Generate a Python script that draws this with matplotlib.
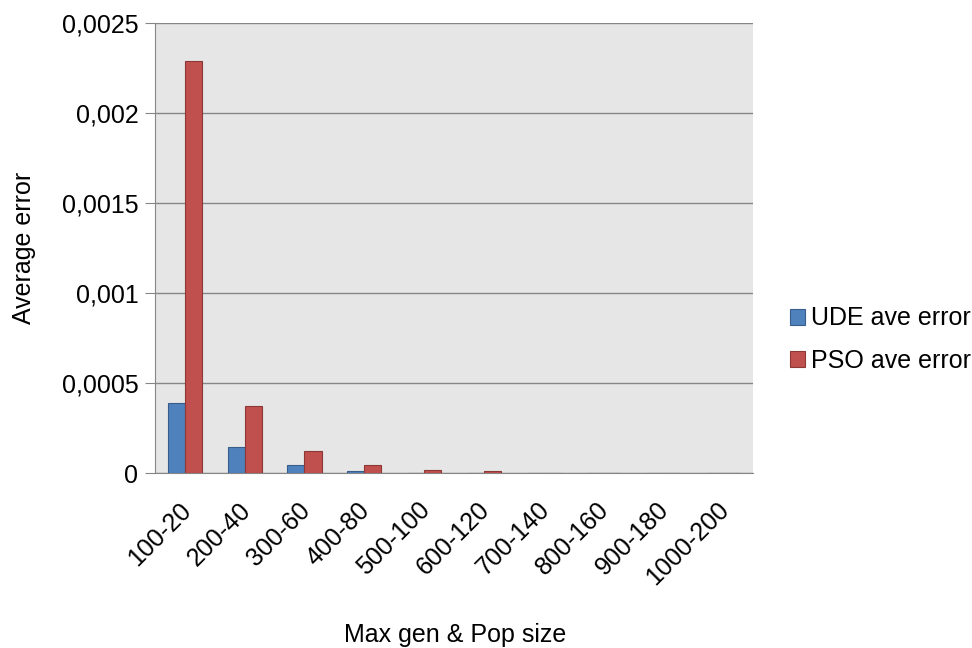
import matplotlib
matplotlib.use('Agg')
from matplotlib import pyplot as plt
from matplotlib.ticker import FuncFormatter
from matplotlib.transforms import ScaledTranslation
import numpy as np

categories = ['100-20', '200-40', '300-60', '400-80', '500-100',
              '600-120', '700-140', '800-160', '900-180', '1000-200']
ude_error = [0.000389, 0.000146, 0.0000444, 0.0000111, 0.000001,
             0.0000005, 0.0, 0.0, 0.0, 0.0]
pso_error = [0.00229, 0.000374, 0.000124, 0.0000444, 0.0000167,
             0.000009, 0.000001, 0.0, 0.0, 0.0]

plt.rcParams['font.family'] = ['Liberation Sans', 'DejaVu Sans']
fs = 18

fig = plt.figure(figsize=(9.72, 6.48), dpi=100)
ax = fig.add_axes([0.1595, 0.270, 0.615, 0.6945])
ax.set_facecolor('#E6E6E6')

x = np.arange(len(categories))
w = 1 / 3.5
ax.bar(x - w / 2, ude_error, width=w, color='#4F81BD', edgecolor='#385D8A',
       linewidth=0.8, label='UDE ave error', zorder=3)
ax.bar(x + w / 2, pso_error, width=w, color='#C0504D', edgecolor='#8C3836',
       linewidth=0.8, label='PSO ave error', zorder=3)

ax.set_xlim(-0.5, len(categories) - 0.5)
ax.set_ylim(0, 0.0025)
ax.set_yticks(np.arange(0, 0.00251, 0.0005))
ax.yaxis.set_major_formatter(FuncFormatter(
    lambda v, p: '0' if v == 0 else f'{v:g}'.replace('.', ',')))
ax.grid(axis='y', color='#868686', linewidth=1, zorder=1)

ax.set_xticks(x)
ax.set_xticklabels(categories, rotation=45, ha='right', va='center',
                   rotation_mode='anchor')
ax.tick_params(axis='x', length=0, pad=24, labelsize=fs)
ax.tick_params(axis='y', length=7, color='#868686', pad=5, labelsize=fs)
shift = ScaledTranslation(0.02, 0, fig.dpi_scale_trans)
for lbl in ax.get_xticklabels():
    lbl.set_transform(lbl.get_transform() + shift)

for side in ['top', 'right']:
    ax.spines[side].set_visible(False)
for side in ['left', 'bottom']:
    ax.spines[side].set_color('#868686')

ax.set_ylabel('Average error', fontsize=fs)
ax.yaxis.set_label_coords(-0.199, 0.5)
ax.set_xlabel('Max gen & Pop size', fontsize=fs)
ax.xaxis.set_label_coords(0.502, -0.334)

ax.legend(loc='center left', bbox_to_anchor=(1.045, 0.296), frameon=False,
          fontsize=fs, handlelength=0.6, handleheight=0.6, handletextpad=0.25,
          labelspacing=0.75, borderaxespad=0)

fig.savefig('out.png', dpi=100)
